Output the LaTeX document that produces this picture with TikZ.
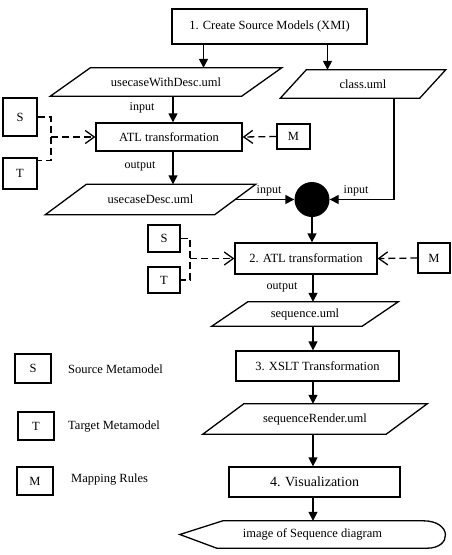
\documentclass[tikz,border=0pt]{standalone}
\usepackage{fontspec}
\setmainfont{Liberation Serif}
\usetikzlibrary{arrows.meta,calc}
\newcommand{\mypara}[7]{%
  \node[minimum width=#4, minimum height=#5] (#1) at (#2,#3) {#7};
  \draw[pline] ([xshift=#6]#1.north west) -- ([xshift=#6]#1.north east) -- ([xshift=-#6]#1.south east) -- ([xshift=-#6]#1.south west) -- cycle;}
\begin{document}
\begin{tikzpicture}[x=1pt,y=-1pt,
  every node/.style={font=\fontsize{12.5}{14}\selectfont, inner sep=0pt},
  box/.style={draw, line width=1.3pt, rectangle},
  pline/.style={line width=1.3pt, line join=miter},
  arr/.style={line width=1.4pt, -{Triangle[length=9pt,width=9pt]}},
  dsh/.style={line width=1.3pt, dash pattern=on 7pt off 4pt},
  oarr/.style={dsh, -{Straight Barb[length=9pt,width=13pt,line width=1.3pt]}},
  lbl/.style={font=\fontsize{12}{14}\selectfont}]
\useasboundingbox (0,0) rectangle (451,555);
\coordinate (col) at (313,0);

% main boxes
\node[box, minimum width=195pt, minimum height=35pt] (b1) at (269.5,26.5) {1. Create Source Models (XMI)};
\mypara{uwd}{166}{82}{191pt}{28pt}{20pt}{usecaseWithDesc.uml}
\mypara{cls}{363}{84}{139pt}{28pt}{13pt}{class.uml}
\node[box, minimum width=146pt, minimum height=28pt] (atl1) at (169,137) {ATL transformation};
\node[box, minimum width=34pt, minimum height=38pt] (S1) at (20,117) {S};
\node[box, minimum width=34pt, minimum height=31pt] (T1) at (20,173.5) {T};
\node[box, minimum width=33pt, minimum height=25pt] (M1) at (293.5,136.5) {M};
\mypara{ucd}{150.5}{199.5}{169pt}{30pt}{20.5pt}{usecaseDesc.uml}
\node[circle, fill=black, minimum size=35pt] (circ) at (312,199.5) {};
\node[box, minimum width=142pt, minimum height=31pt] (atl2) at (306,258.5) {2. ATL transformation};
\node[box, minimum width=32pt, minimum height=27pt] (S2) at (164,238.5) {S};
\node[box, minimum width=32pt, minimum height=26pt] (T2) at (164,280) {T};
\node[box, minimum width=32pt, minimum height=30pt] (M2) at (434,258) {M};
\mypara{seq}{305}{314}{150pt}{24pt}{18pt}{sequence.uml}
\node[box, minimum width=163pt, minimum height=30pt] (xslt) at (317.5,366) {3. XSLT Transformation};
\mypara{sr}{315}{419}{183pt}{30pt}{20.5pt}{sequenceRender.uml}
\node[box, minimum width=171pt, minimum height=30pt, font=\fontsize{14}{16}\selectfont] (vis) at (314.5,482) {4. Visualization};
\node[minimum width=265pt, minimum height=27pt] (img) at (312.5,534.5) {image of Sequence diagram};
\draw[pline] (img.west) -- ([xshift=43pt]img.north west) -- ([xshift=-22pt]img.north east)
  .. controls ([xshift=7pt]img.north east) and ([xshift=7pt]img.south east) .. ([xshift=-18pt]img.south east)
  -- ([xshift=37pt]img.south west) -- cycle;

% labels
\node[lbl] (lin1) at (142,108) {input};
\node[lbl] (lout1) at (140,166) {output};
\node[lbl] (lin2) at (269,191) {input};
\node[lbl] (lin3) at (356,191) {input};
\node[lbl] (lout2) at (282,287) {output};

% solid connectors
\draw[arr] ([xshift=-66pt]b1.south) -- ([xshift=-66pt]b1.south |- uwd.north);
\draw[arr] ([xshift=58pt]b1.south) -- ([xshift=58pt]b1.south |- cls.north);
\draw[arr] ([xshift=4pt]atl1.north |- uwd.south) -- ([xshift=4pt]atl1.north);
\draw[arr] ([xshift=4pt]atl1.south) -- ([xshift=4pt]atl1.south |- ucd.north);
\draw[arr] (ucd.east) -- (circ.west);
\draw[arr] ([xshift=31pt]cls.south) |- (circ.east);
\draw[arr] (circ.south) -- (circ.south |- atl2.north);
\draw[arr] (col |- atl2.south) -- (col |- seq.north);
\draw[arr] (col |- seq.south) -- (col |- xslt.north);
\draw[arr] (col |- xslt.south) -- (col |- sr.north);
\draw[arr] (col |- sr.south) -- (col |- vis.north);
\draw[arr] (col |- vis.south) -- (col |- img.north);

% dashed connectors
\coordinate (j1) at (51,137);
\draw[dsh] (S1.east) -| (j1) |- ([yshift=-3pt]T1.north east);
\draw[oarr] (j1) -- (atl1.west);
\draw[oarr] (M1.west) -- (atl1.east);
\coordinate (j2) at (190,258.5);
\draw[dsh] (S2.east) -| (j2) |- (T2.east);
\draw[oarr] (j2) -- (atl2.west);
\draw[oarr] (M2.west) -- (atl2.east);

% legend
\node[box, minimum width=36pt, minimum height=29pt] (LS) at (33,368.5) {S};
\node[anchor=west] (LSt) at (68,369) {Source Metamodel};
\node[box, minimum width=36pt, minimum height=28pt] (LT) at (36,426) {T};
\node[anchor=west] (LTt) at (68,427) {Target Metamodel};
\node[box, minimum width=36pt, minimum height=28pt] (LM) at (35,481) {M};
\node[anchor=west] (LMt) at (71,480) {Mapping Rules};
\end{tikzpicture}
\end{document}
